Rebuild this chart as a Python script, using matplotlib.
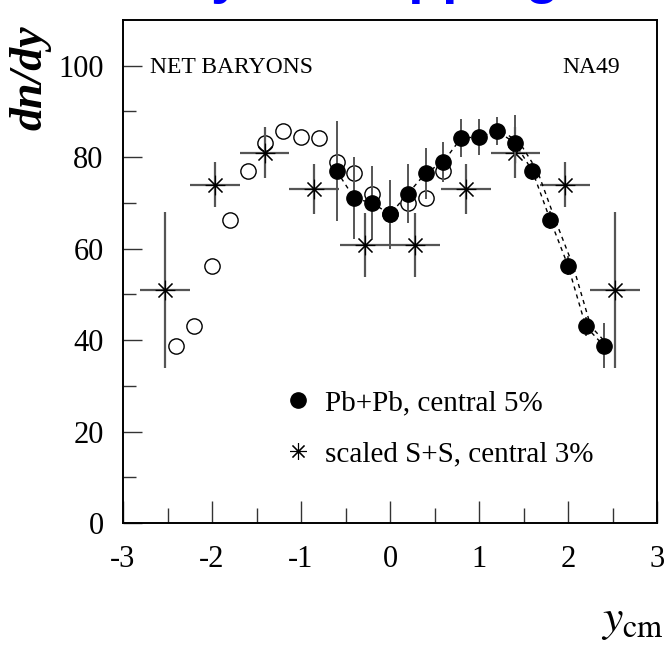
import matplotlib
matplotlib.use("Agg")
import matplotlib.pyplot as plt
from matplotlib.lines import Line2D
import matplotlib.transforms as mtransforms

plt.rcParams['font.family'] = ['Liberation Serif', 'DejaVu Serif']
plt.rcParams['mathtext.fontset'] = 'stix'
plt.rcParams['axes.unicode_minus'] = False

# Pb+Pb central 5% (measured, filled)
pb_y = [-0.6, -0.4, -0.2, 0.0, 0.2, 0.4, 0.6, 0.8, 1.0, 1.2, 1.4, 1.6, 1.8, 2.0, 2.2, 2.4]
pb_dn = [77, 71, 70, 67.5, 72, 76.5, 79, 84.2, 84.4, 85.7, 83.2, 77, 66.3, 56.3, 43, 38.8]
pb_err = [11, 9, 8, 7.5, 6.5, 5.6, 4.4, 4.2, 4, 3, 6, 2, 2, 2, 2, 5]

# scaled S+S central 3%
ss_y = [-2.53, -1.97, -1.41, -0.85, -0.28, 0.28, 0.85, 1.41, 1.97, 2.53]
ss_dn = [51, 74, 81, 73, 60.7, 60.7, 73, 81, 74, 51]
ss_err = [17, 5, 5.5, 5.5, 7, 7, 5.5, 5.5, 5, 17]
ss_bin = [0.28] * 10

# reflected Pb+Pb points (open circles)
refl_y = [-v for v in pb_y]
refl_dn = list(pb_dn)

fig = plt.figure(figsize=(6.67, 6.53), dpi=100)
ax = fig.add_axes([123 / 667, 130 / 653, 534 / 667, 503 / 653])

star = (8, 2, 0)
grey = '#555555'

ax.plot(refl_y, refl_dn, 'o', ms=11, mfc='white', mec='black', mew=1.0, zorder=2)

ax.errorbar(ss_y, ss_dn, xerr=ss_bin, yerr=ss_err, fmt='none',
            ecolor=grey, elinewidth=1.6, capsize=0, zorder=3)
ax.plot(ss_y, ss_dn, ls='none', marker=star, ms=14, mec='black', mew=0.8, zorder=4)

ax.plot(pb_y, pb_dn, ls=(0, (3, 3)), color='black', lw=1.0, zorder=3)
# second dashed curve on the falling edge, shifted slightly
off = mtransforms.offset_copy(ax.transData, fig=fig, x=5, y=0, units='dots')
ax.plot(pb_y[9:], pb_dn[9:], ls=(0, (3, 3)), color='black', lw=1.0, transform=off, zorder=3)

ax.errorbar(pb_y, pb_dn, yerr=pb_err, fmt='none', ecolor=grey,
            elinewidth=1.4, capsize=0, zorder=4)
ax.plot(pb_y, pb_dn, 'o', ms=11, color='black', zorder=5)

ax.set_xlim(-3, 3)
ax.set_ylim(0, 110)
ax.set_xticks([-3, -2, -1, 0, 1, 2, 3])
ax.set_xticks([-2.5, -1.5, -0.5, 0.5, 1.5, 2.5], minor=True)
ax.set_yticks([0, 20, 40, 60, 80, 100])
ax.set_yticks([10, 30, 50, 70, 90], minor=True)
ax.tick_params(axis='both', which='both', direction='in', top=False, right=False,
               labelsize=22, width=1.0, color='#333333')
ax.tick_params(axis='x', which='major', length=16, pad=16)
ax.tick_params(axis='x', which='minor', length=11)
ax.tick_params(axis='y', which='major', length=14, pad=14)
ax.tick_params(axis='y', which='minor', length=9)
for s in ax.spines.values():
    s.set_linewidth(1.4)

ax.text(0.05, 0.905, 'NET BARYONS', transform=ax.transAxes, fontsize=17,
        ha='left', va='center')
ax.text(0.93, 0.905, 'NA49', transform=ax.transAxes, fontsize=17,
        ha='right', va='center')

handles = [Line2D([], [], ls='none', marker='o', ms=11, color='black'),
           Line2D([], [], ls='none', marker=star, ms=12, mec='black', mew=0.8)]
labels = ['Pb+Pb, central 5%', 'scaled S+S, central 3%']
ax.legend(handles, labels, loc='upper left', bbox_to_anchor=(0.30, 0.265),
          frameon=False, fontsize=21, handlelength=1.0, handletextpad=0.45,
          labelspacing=0.85, borderpad=0, borderaxespad=0)

ax.text(-0.174, 0.99, 'dn/dy', transform=ax.transAxes, rotation=90,
        rotation_mode='anchor', ha='right', va='center', fontsize=33,
        style='italic', fontweight='bold')
fig.text(664 / 667, 22 / 653, r'$y_{\mathrm{cm}}$', ha='right', va='baseline', fontsize=33)

fig.text(20 / 667, 1.012, 'Net baryon stopping', color='blue', fontsize=40,
         fontweight='bold', family='Liberation Sans', va='baseline')

fig.savefig('out.png', dpi=100)
